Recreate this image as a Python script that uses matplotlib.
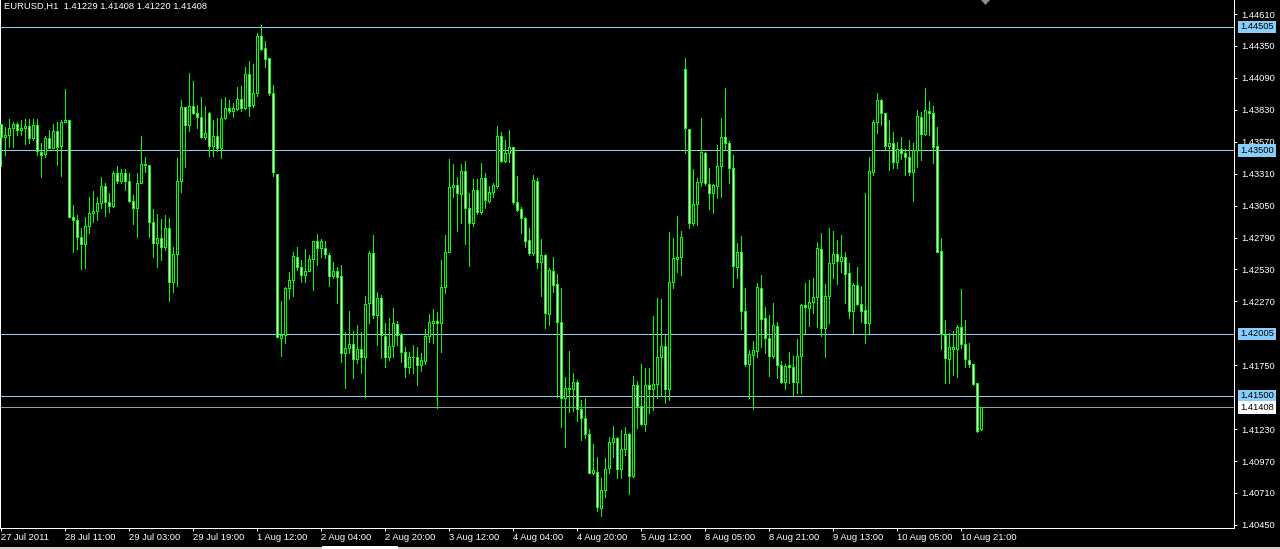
import numpy as np
import matplotlib.pyplot as plt
import matplotlib.transforms as mtransforms
from matplotlib.patches import Rectangle

# EURUSD H1 bars, 27 Jul 2011 19:00 .. 11 Aug 2011
opens = [
    1.43714, 1.43609, 1.43625, 1.43682, 1.43714, 1.43666, 1.43682, 1.43698, 1.43600, 1.43706,
    1.43487, 1.43470, 1.43600, 1.43519, 1.43657, 1.43535, 1.43731, 1.43747, 1.42957, 1.42933,
    1.42795, 1.42738, 1.42884, 1.42990, 1.43006, 1.43071, 1.43210, 1.43080, 1.43047, 1.43316,
    1.43250, 1.43316, 1.43250, 1.43088, 1.43031, 1.43234, 1.43389, 1.43381, 1.42917, 1.42746,
    1.42786, 1.42713, 1.42868, 1.42428, 1.42656, 1.43250, 1.43853, 1.43706, 1.43861, 1.43804,
    1.43772, 1.43609, 1.43804, 1.43535, 1.43617, 1.43519, 1.43763, 1.43845, 1.43820, 1.43837,
    1.43918, 1.43845, 1.44121, 1.43869, 1.43967, 1.44431, 1.44333, 1.44252, 1.43967, 1.43307,
    1.41972, 1.41997, 1.42379, 1.42445, 1.42632, 1.42550, 1.42485, 1.42518, 1.42615, 1.42762,
    1.42705, 1.42705, 1.42648, 1.42477, 1.42518, 1.42477, 1.41850, 1.41891, 1.41923, 1.41801,
    1.41883, 1.41818, 1.42257, 1.42664, 1.42160, 1.42298, 1.41989, 1.41818, 1.41907, 1.42086,
    1.42005, 1.41858, 1.41736, 1.41818, 1.41818, 1.41753, 1.41785, 1.41989, 1.42094, 1.42111,
    1.42094, 1.42388, 1.42672, 1.43202, 1.43218, 1.43145, 1.43332, 1.43031, 1.42908, 1.43177,
    1.42998, 1.43275, 1.43088, 1.43161, 1.43210, 1.43617, 1.43413, 1.43478, 1.43527, 1.43080,
    1.43023, 1.42949, 1.42770, 1.42664, 1.43250, 1.42591, 1.42648, 1.42168, 1.42518, 1.42412,
    1.42103, 1.41484, 1.41565, 1.41557, 1.41614, 1.41394, 1.41321, 1.41191, 1.40873, 1.40881,
    1.40588, 1.40735, 1.40914, 1.41126, 1.41158, 1.40906, 1.41069, 1.41191, 1.40849, 1.41590,
    1.41419, 1.41272, 1.41590, 1.41557, 1.41598, 1.41818, 1.41907, 1.41557, 1.42428, 1.42615,
    1.42632, 1.44162, 1.43674, 1.42908, 1.43063, 1.43242, 1.43478, 1.43226, 1.43153, 1.43210,
    1.43373, 1.43609, 1.43560, 1.43356, 1.42550, 1.42672, 1.42192, 1.41761, 1.41834, 1.41866,
    1.42379, 1.42135, 1.41972, 1.41826, 1.42070, 1.41753, 1.41614, 1.41753, 1.41736, 1.41614,
    1.41826, 1.42241, 1.42217, 1.42265, 1.42306, 1.42697, 1.42054, 1.42314, 1.42583, 1.42656,
    1.42599, 1.42632, 1.42501, 1.42192, 1.42404, 1.42249, 1.42200, 1.42094, 1.43324, 1.43731,
    1.43910, 1.43804, 1.43535, 1.43560, 1.43405, 1.43511, 1.43478, 1.43446, 1.43324, 1.43503,
    1.43772, 1.43633, 1.43820, 1.43804, 1.43535, 1.42681, 1.41997, 1.41801, 1.41883, 1.41883,
    1.42062, 1.41923, 1.41793, 1.41761, 1.41606, 1.41229,
]
highs = [
    1.43714, 1.43690, 1.43755, 1.43731, 1.43731, 1.43747, 1.43755, 1.43755, 1.43755, 1.43755,
    1.43560, 1.43617, 1.43666, 1.43714, 1.43731, 1.43747, 1.44000, 1.43747, 1.43055, 1.42974,
    1.42868, 1.42957, 1.43120, 1.43169, 1.43120, 1.43283, 1.43234, 1.43153, 1.43332, 1.43373,
    1.43348, 1.43348, 1.43316, 1.43137, 1.43316, 1.43617, 1.43446, 1.43381, 1.43023, 1.42982,
    1.42941, 1.42974, 1.42949, 1.42713, 1.43438, 1.43910, 1.43853, 1.44130, 1.44065, 1.43869,
    1.43934, 1.43861, 1.43812, 1.43747, 1.43763, 1.43918, 1.43934, 1.43910, 1.43885, 1.44016,
    1.44024, 1.44178, 1.44227, 1.44203, 1.44455, 1.44520, 1.44390, 1.44252, 1.44032, 1.43307,
    1.42273, 1.42388, 1.42510, 1.42672, 1.42713, 1.42607, 1.42697, 1.42648, 1.42762, 1.42819,
    1.42778, 1.42762, 1.42664, 1.42591, 1.42550, 1.42567, 1.42021, 1.42192, 1.42029, 1.42078,
    1.42021, 1.42314, 1.42681, 1.42811, 1.42347, 1.42322, 1.42094, 1.42135, 1.42217, 1.42111,
    1.42013, 1.41899, 1.41858, 1.41915, 1.41899, 1.41850, 1.42046, 1.42168, 1.42208, 1.42184,
    1.42607, 1.42811, 1.43430, 1.43389, 1.43283, 1.43389, 1.43413, 1.43153, 1.43267, 1.43267,
    1.43397, 1.43316, 1.43210, 1.43234, 1.43698, 1.43649, 1.43584, 1.43666, 1.43527, 1.43291,
    1.43039, 1.42957, 1.42868, 1.43299, 1.43275, 1.42778, 1.42656, 1.42542, 1.42632, 1.42493,
    1.42379, 1.41655, 1.41866, 1.41687, 1.41630, 1.41468, 1.41484, 1.41232, 1.41109, 1.41004,
    1.40833, 1.40995, 1.41166, 1.41256, 1.41166, 1.41223, 1.41248, 1.41199, 1.41663, 1.41622,
    1.41761, 1.41728, 1.41728, 1.42151, 1.42298, 1.42290, 1.41997, 1.42835, 1.42786, 1.42966,
    1.42843, 1.44252, 1.43674, 1.43348, 1.43275, 1.43763, 1.43487, 1.43356, 1.43226, 1.43543,
    1.43763, 1.44008, 1.43576, 1.43462, 1.42746, 1.42803, 1.42379, 1.41875, 1.41948, 1.42420,
    1.42485, 1.42225, 1.42160, 1.42257, 1.42103, 1.41785, 1.41761, 1.41858, 1.41826, 1.41964,
    1.42249, 1.42420, 1.42445, 1.42461, 1.42754, 1.42827, 1.42412, 1.42868, 1.42843, 1.42770,
    1.42811, 1.42672, 1.42583, 1.42420, 1.42550, 1.42396, 1.43153, 1.43446, 1.43747, 1.43967,
    1.43918, 1.43804, 1.43747, 1.43649, 1.43568, 1.43609, 1.43511, 1.43584, 1.43560, 1.43828,
    1.43812, 1.44008, 1.43902, 1.43861, 1.43690, 1.42786, 1.42119, 1.42013, 1.42029, 1.42078,
    1.42371, 1.42119, 1.41932, 1.41761, 1.41606, 1.41408,
]
lows = [
    1.43373, 1.43462, 1.43527, 1.43527, 1.43625, 1.43625, 1.43552, 1.43560, 1.43584, 1.43462,
    1.43283, 1.43446, 1.43519, 1.43519, 1.43381, 1.43291, 1.43731, 1.42957, 1.42672, 1.42697,
    1.42534, 1.42542, 1.42827, 1.42917, 1.42933, 1.43031, 1.42966, 1.42998, 1.43039, 1.43234,
    1.43234, 1.43177, 1.43080, 1.42900, 1.42795, 1.43234, 1.43324, 1.42795, 1.42632, 1.42550,
    1.42607, 1.42689, 1.42273, 1.42347, 1.42396, 1.43161, 1.43364, 1.43657, 1.43796, 1.43682,
    1.43600, 1.43592, 1.43454, 1.43454, 1.43495, 1.43438, 1.43755, 1.43804, 1.43772, 1.43828,
    1.43820, 1.43837, 1.43780, 1.43853, 1.43942, 1.44317, 1.44178, 1.43951, 1.43291, 1.41980,
    1.41826, 1.41932, 1.42290, 1.42314, 1.42526, 1.42428, 1.42428, 1.42518, 1.42363, 1.42567,
    1.42632, 1.42624, 1.42396, 1.42461, 1.42257, 1.41777, 1.41565, 1.41850, 1.41647, 1.41769,
    1.41687, 1.41492, 1.42094, 1.42135, 1.41915, 1.41810, 1.41736, 1.41793, 1.41818, 1.41915,
    1.41777, 1.41655, 1.41687, 1.41687, 1.41590, 1.41704, 1.41761, 1.41940, 1.41932, 1.41402,
    1.41858, 1.42339, 1.42672, 1.43120, 1.42843, 1.42908, 1.42738, 1.42558, 1.42884, 1.42982,
    1.42982, 1.43031, 1.43080, 1.43120, 1.43193, 1.43405, 1.43405, 1.43405, 1.43063, 1.43006,
    1.42827, 1.42713, 1.42648, 1.42648, 1.42542, 1.42314, 1.42054, 1.42078, 1.42347, 1.41492,
    1.41248, 1.41085, 1.41370, 1.41378, 1.41297, 1.41142, 1.41158, 1.40873, 1.40865, 1.40564,
    1.40523, 1.40678, 1.40873, 1.41004, 1.40833, 1.40833, 1.41020, 1.40702, 1.40841, 1.41240,
    1.41264, 1.41215, 1.41362, 1.41386, 1.41484, 1.41500, 1.41443, 1.41468, 1.42379, 1.42510,
    1.42485, 1.43478, 1.42868, 1.42892, 1.42892, 1.43210, 1.43218, 1.43023, 1.42990, 1.43112,
    1.43120, 1.43503, 1.43234, 1.42388, 1.42461, 1.42046, 1.41744, 1.41484, 1.41394, 1.41818,
    1.41899, 1.41850, 1.41663, 1.41810, 1.41647, 1.41606, 1.41557, 1.41606, 1.41508, 1.41525,
    1.41525, 1.42013, 1.42070, 1.42176, 1.42062, 1.41989, 1.41818, 1.42094, 1.42461, 1.42412,
    1.42510, 1.42257, 1.42135, 1.42013, 1.42241, 1.42103, 1.41932, 1.42013, 1.43299, 1.43641,
    1.43706, 1.43503, 1.43340, 1.43356, 1.43356, 1.43430, 1.43299, 1.43299, 1.43088, 1.43364,
    1.43421, 1.43625, 1.43625, 1.43397, 1.42672, 1.41883, 1.41606, 1.41606, 1.41671, 1.41655,
    1.41891, 1.41736, 1.41736, 1.41590, 1.41207, 1.41220,
]
closes = [
    1.43609, 1.43625, 1.43682, 1.43714, 1.43666, 1.43682, 1.43698, 1.43600, 1.43706, 1.43495,
    1.43462, 1.43600, 1.43519, 1.43657, 1.43527, 1.43731, 1.43747, 1.42957, 1.42933, 1.42795,
    1.42738, 1.42884, 1.42990, 1.43006, 1.43071, 1.43210, 1.43080, 1.43047, 1.43316, 1.43250,
    1.43316, 1.43250, 1.43088, 1.43031, 1.43234, 1.43389, 1.43381, 1.42917, 1.42746, 1.42786,
    1.42713, 1.42868, 1.42428, 1.42656, 1.43250, 1.43853, 1.43706, 1.43861, 1.43804, 1.43772,
    1.43609, 1.43641, 1.43535, 1.43617, 1.43519, 1.43763, 1.43845, 1.43820, 1.43845, 1.43918,
    1.43845, 1.44121, 1.43861, 1.43967, 1.44431, 1.44325, 1.44244, 1.43967, 1.43324, 1.41980,
    1.41997, 1.42379, 1.42445, 1.42640, 1.42550, 1.42485, 1.42518, 1.42615, 1.42762, 1.42705,
    1.42762, 1.42656, 1.42477, 1.42518, 1.42469, 1.41850, 1.41891, 1.41923, 1.41801, 1.41883,
    1.41818, 1.42249, 1.42664, 1.42160, 1.42298, 1.41997, 1.41818, 1.41907, 1.42094, 1.41997,
    1.41858, 1.41736, 1.41818, 1.41818, 1.41753, 1.41793, 1.41989, 1.42103, 1.42111, 1.42094,
    1.42388, 1.42672, 1.43202, 1.43218, 1.43153, 1.43332, 1.43031, 1.42908, 1.43177, 1.42998,
    1.43275, 1.43096, 1.43161, 1.43218, 1.43617, 1.43413, 1.43478, 1.43527, 1.43080, 1.43014,
    1.42949, 1.42762, 1.42664, 1.43259, 1.42591, 1.42648, 1.42176, 1.42526, 1.42404, 1.42103,
    1.41484, 1.41565, 1.41557, 1.41614, 1.41394, 1.41321, 1.41191, 1.40873, 1.40898, 1.40596,
    1.40735, 1.40906, 1.41126, 1.41158, 1.40906, 1.41069, 1.41191, 1.40849, 1.41590, 1.41419,
    1.41272, 1.41590, 1.41557, 1.41598, 1.41818, 1.41907, 1.41557, 1.42428, 1.42624, 1.42632,
    1.42795, 1.43682, 1.42908, 1.43063, 1.43242, 1.43487, 1.43234, 1.43153, 1.43218, 1.43373,
    1.43609, 1.43560, 1.43356, 1.42558, 1.42672, 1.42192, 1.41761, 1.41842, 1.41875, 1.42388,
    1.42127, 1.41972, 1.41826, 1.42078, 1.41753, 1.41614, 1.41744, 1.41736, 1.41614, 1.41826,
    1.42241, 1.42225, 1.42265, 1.42306, 1.42705, 1.42054, 1.42314, 1.42583, 1.42656, 1.42599,
    1.42632, 1.42493, 1.42192, 1.42404, 1.42249, 1.42192, 1.42094, 1.43332, 1.43731, 1.43910,
    1.43804, 1.43535, 1.43560, 1.43405, 1.43511, 1.43478, 1.43446, 1.43324, 1.43503, 1.43780,
    1.43633, 1.43828, 1.43804, 1.43527, 1.42672, 1.42005, 1.41810, 1.41899, 1.41899, 1.42062,
    1.41923, 1.41801, 1.41761, 1.41598, 1.41215, 1.41408,
]

# time axis labels, one every 16 bars
time_labels = ['27 Jul 2011', '28 Jul 11:00', '29 Jul 03:00', '29 Jul 19:00', '1 Aug 12:00',
               '2 Aug 04:00', '2 Aug 20:00', '3 Aug 12:00', '4 Aug 04:00', '4 Aug 20:00',
               '5 Aug 12:00', '8 Aug 05:00', '8 Aug 21:00', '9 Aug 13:00', '10 Aug 05:00',
               '10 Aug 21:00']
label_step = 16

price_ticks = [1.44610, 1.44350, 1.44090, 1.43830, 1.43570, 1.43310, 1.43050, 1.42790,
               1.42530, 1.42270, 1.41750, 1.41230, 1.40970, 1.40710, 1.40450]

hlines = [1.44505, 1.43500, 1.42005, 1.41500]
bid = 1.41408
title = 'EURUSD,H1  1.41229 1.41408 1.41220 1.41408'

plt.rcParams['font.family'] = ['Liberation Sans', 'DejaVu Sans']
W, H = 1280, 549
px = 72 / 100  # one pixel in points
fs = 6.75

fig = plt.figure(figsize=(W / 100, H / 100), dpi=100, facecolor='black')
ax = fig.add_axes([0, 21 / H, 1234 / W, 528 / H])
ax.set_facecolor('black')

o = np.array(opens)
c = np.array(closes)
hi = np.array(highs)
lo = np.array(lows)
x = np.arange(len(o))
up = c >= o

lime = '#00ff00'
ax.vlines(x, lo, hi, color=lime, linewidth=px, antialiased=False, zorder=3)
ax.bar(x, np.abs(c - o), bottom=np.minimum(o, c), width=0.5,
       color=np.where(up, 'black', 'white'), edgecolor=lime,
       linewidth=px, antialiased=False, zorder=4)

# horizontal levels
for v in hlines:
    ax.axhline(v, color='#8ecdf0', linewidth=px, zorder=2)
ax.axhline(bid, color='#9a9a9a', linewidth=px, zorder=2)

ax.set_xlim(-0.325, -0.325 + 1234 / 4)
ax.set_ylim(1.40425, 1.44724)

ax.spines['top'].set_visible(False)
for s in ['bottom', 'right', 'left']:
    ax.spines[s].set_color('white')
    ax.spines[s].set_linewidth(px)

ax.yaxis.tick_right()
ax.set_yticks(price_ticks)
ax.set_yticklabels([f'{v:.5f}' for v in price_ticks])
ax.tick_params(axis='y', colors='white', length=3 * px, width=px, pad=4 * px,
               labelsize=fs, direction='out')

ax.set_xticks(np.arange(len(time_labels)) * label_step)
ax.set_xticklabels(time_labels)
ax.tick_params(axis='x', colors='white', length=3 * px, width=px, pad=2 * px,
               labelsize=fs, direction='out')
for t in ax.get_xticklabels():
    t.set_horizontalalignment('left')

# price labels of the lines on the right scale
trans = mtransforms.blended_transform_factory(ax.transAxes, ax.transData)
for v in hlines:
    ax.annotate(f'{v:.5f}', xy=(1, v), xycoords=trans, xytext=(6 * px, 0),
                textcoords='offset points', va='center', ha='left', fontsize=fs,
                color='black', bbox=dict(boxstyle='square,pad=0.2', fc='#87cefa', ec='none'),
                annotation_clip=False, zorder=10)
ax.annotate(f'{bid:.5f}', xy=(1, bid), xycoords=trans, xytext=(6 * px, 0),
            textcoords='offset points', va='center', ha='left', fontsize=fs,
            color='black', bbox=dict(boxstyle='square,pad=0.2', fc='white', ec='none'),
            annotation_clip=False, zorder=10)

fig.text(4 / W, 1 - 6.5 / H, title, color='white', fontsize=fs, va='center', ha='left')

# chart shift marker and tab strip
fig.add_artist(plt.Polygon([[981 / W, 1], [990 / W, 1], [985.5 / W, 1 - 5 / H]],
                           closed=True, transform=fig.transFigure, fc='#8c8c8c', ec='none'))
fig.add_artist(Rectangle((0, 0), 1, 2 / H, transform=fig.transFigure, fc='#d4d0c8', ec='none'))
fig.add_artist(Rectangle((322 / W, 0), 76 / W, 3 / H, transform=fig.transFigure,
                         fc='#ffffff', ec='none'))

fig.savefig('out.png', dpi=100, facecolor='black')
